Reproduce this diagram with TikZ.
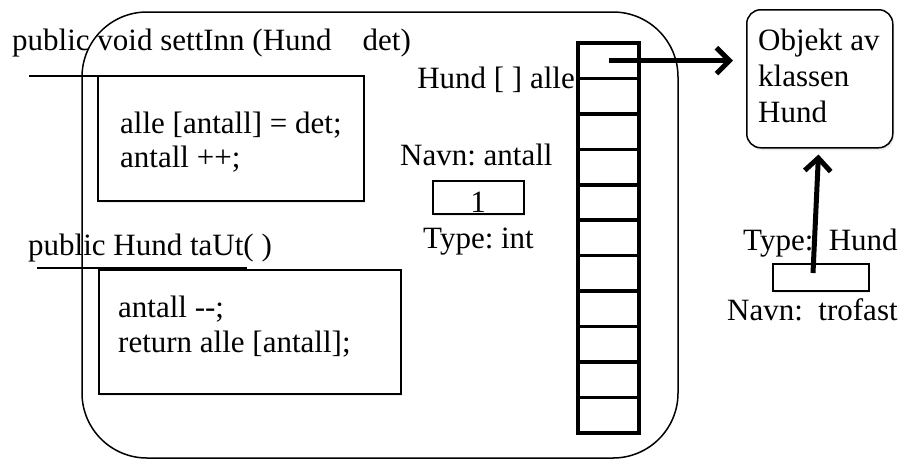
\documentclass[tikz,border=0pt]{standalone}
\usepackage{fontspec}
\setmainfont{Liberation Serif}
\usetikzlibrary{arrows.meta,shadows}
\frenchspacing

\begin{document}
\begin{tikzpicture}[x=1pt,y=-1pt,
    every node/.style={font=\fontsize{31}{36}\selectfont,inner sep=0pt},
    txt/.style={anchor=base west},
    codebox/.style={draw,line width=1.5pt,fill=white,anchor=north west,
      drop shadow={shadow xshift=1.5pt,shadow yshift=-2.5pt,fill=black!15}},
    under/.style={line width=2.5pt},
    cell/.style={draw,line width=3.5pt,minimum width=61pt,minimum height=35.45pt},
    ref/.style={line width=5pt,-{Straight Barb[length=13pt,width=26pt]}}]
  \useasboundingbox (0,0) rectangle (904,459);
  \draw[line width=1.5pt,rounded corners=65pt] (82,12) rectangle (678,458);

  \node[txt] (settinn) at (12,50) {public void settInn (Hund\ \ \ \ det)};
  \draw[under] (29,76) -- (240,76);
  \node[codebox,minimum width=266pt,minimum height=125pt] (inn) at (97,75) {};
  \node[txt] (inn1) at (120,133) {alle [antall] = det;};
  \node[txt] (inn2) at (120,167) {antall ++;};

  \node[txt] (taut) at (28,255) {public Hund taUt( )};
  \draw[under] (37,268) -- (247,268);
  \node[codebox,minimum width=302pt,minimum height=124pt] (ut) at (98,269) {};
  \node[txt] (ut1) at (118,317) {antall -{}-;};
  \node[txt] (ut2) at (118,352) {return alle [antall];};

  \node[anchor=base east] (alle) at (575,88) {Hund [ ] alle};
  \foreach \i in {0,...,10}
    \node[cell] (c\i) at (608.5,60.7+35.45*\i) {};

  \node[txt] (navn) at (400,165) {Navn: antall};
  \node[codebox,minimum width=91pt,minimum height=33pt] (antall) at (432,180) {};
  \node[anchor=base] (one) at (478,212) {1};
  \node[txt] (type) at (423,248) {Type: int};

  \node[codebox,rounded corners=14pt,minimum width=146pt,minimum height=138pt] (obj) at (746,9) {};
  \node[txt] (obj1) at (758,50) {Objekt av};
  \node[txt] (obj2) at (758,86) {klassen};
  \node[txt] (obj3) at (758,122) {Hund};

  \node[txt] (hundtype) at (743,250) {Type:\ \ Hund};
  \node[codebox,minimum width=96pt,minimum height=27pt] (trofast) at (772,263) {};
  \node[txt] (hundnavn) at (727,320) {Navn:\ \ trofast};
  \coordinate (dogref) at (813,273);

  \draw[ref,shorten >=13pt] (c0.center) -- (obj.west |- c0.center);
  \draw[ref,shorten >=6pt] (dogref) -- ([xshift=-1pt]obj.south);
\end{tikzpicture}
\end{document}
